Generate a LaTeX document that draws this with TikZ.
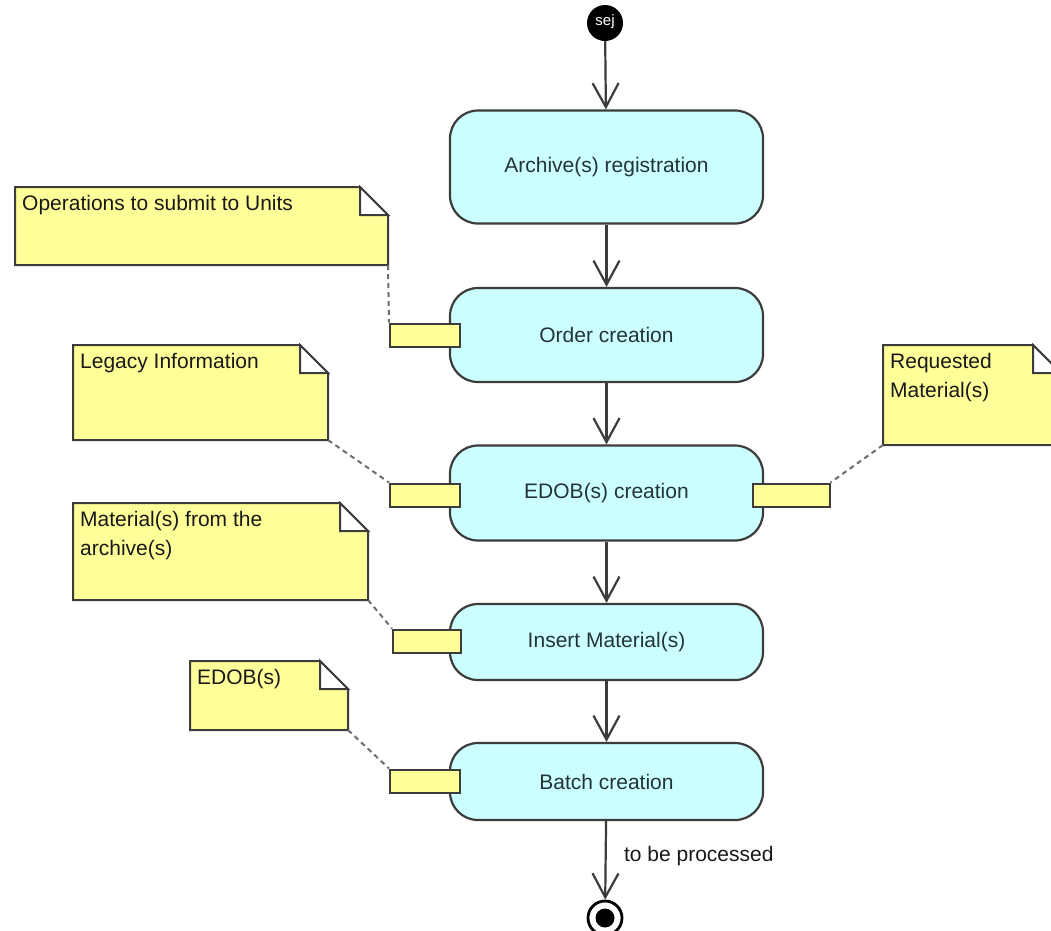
\documentclass[tikz,border=0pt]{standalone}
\usepackage{fontspec}
\setmainfont{Liberation Sans}
\usetikzlibrary{arrows.meta,calc}
\definecolor{actfill}{RGB}{204,255,255}
\definecolor{notefill}{RGB}{255,255,153}
\definecolor{edgec}{RGB}{60,60,60}
\definecolor{acttext}{RGB}{35,52,56}
\definecolor{linkc}{RGB}{110,110,110}
\tikzset{
  act/.style={draw=edgec, line width=2.2pt, fill=actfill, rounded corners=28pt,
    text=acttext, minimum width=313pt, inner sep=0pt},
  pinbox/.style={draw=edgec, line width=2pt, fill=notefill, minimum width=70pt,
    minimum height=23pt, inner sep=0pt},
  flow/.style={draw=edgec, line width=2.2pt,
    -{Straight Barb[length=24pt,width=26pt,line width=2.2pt]}},
  notelink/.style={draw=linkc, line width=2pt, dash pattern=on 5pt off 4pt},
  noteshape/.style={draw=edgec, line width=2pt, fill=notefill, line join=miter},
  notetext/.style={anchor=north west, align=left, inner sep=0pt, text=black!90}
}
\newcommand{\umlnote}[6]{%
  \draw[noteshape] (#2,#3) -- (#4-28,#3) -- (#4,#3+28) -- (#4,#5) -- (#2,#5) -- cycle;
  \draw[noteshape, fill=white] (#4-28,#3) -- (#4-28,#3+28) -- (#4,#3+28) -- cycle;
  \coordinate (#1-se) at (#4,#5);
  \coordinate (#1-sw) at (#2,#5);
  \node[notetext] (#1) at (#2+7,#3+8) {#6};
}
\begin{document}
\begin{tikzpicture}[x=1pt,y=-1pt,font=\fontsize{21}{29}\selectfont]
\useasboundingbox (0,0) rectangle (1051,930);
\clip (0,0) rectangle (1051,930);
\fill[white] (0,0) rectangle (1051,930);

% activities
\node[act, minimum height=113pt] (a1) at (606.5,167) {Archive(s) registration};
\node[act, minimum height=94pt] (a2) at (606.5,335) {Order creation};
\node[act, minimum height=95pt] (a3) at (606.5,493) {EDOB(s) creation};
\node[act, minimum height=76pt] (a4) at (606.5,642) {Insert Material(s)};
\node[act, minimum height=77pt] (a5) at (606.5,781.5) {Batch creation};

% initial / final
\node[circle, fill=black, minimum size=36pt, inner sep=0pt, text=white,
  font=\fontsize{15}{15}\selectfont] (init) at (605,23) {\raisebox{5pt}{sej}};
\node[circle, draw=black, line width=2.8pt, fill=white, minimum size=34pt, inner sep=0pt] (fin) at (605,918) {};
\node[circle, fill=black, minimum size=19pt, inner sep=0pt] (fininner) at (fin.center) {};

% control flows
\draw[flow] (init) -- (a1);
\draw[flow] (a1) -- (a2);
\draw[flow] (a2) -- (a3);
\draw[flow] (a3) -- (a4);
\draw[flow] (a4) -- (a5);
\draw[flow] (a5) -- node[right=14pt, pos=0.45, text=black!90] (lbl) {to be processed} (fin);

% pins
\node[pinbox] (p1) at (425,335) {};
\node[pinbox] (p2) at (425,495) {};
\node[pinbox, minimum width=77pt] (p3) at (791,495) {};
\node[pinbox, minimum width=68pt] (p4) at (427,641) {};
\node[pinbox] (p5) at (425,781) {};

% notes
\umlnote{n1}{15}{187}{388}{265}{Operations to submit to Units}
\umlnote{n2}{73}{345}{328}{440}{Legacy Information}
\umlnote{n3}{883}{345}{1061}{445}{Requested\\Material(s)}
\umlnote{n4}{73}{503}{368}{600}{Material(s) from the\\archive(s)}
\umlnote{n5}{190}{661}{348}{730}{EDOB(s)}

% note links
\draw[notelink] (n1-se) -- (p1.north west);
\draw[notelink] (n2-se) -- (p2.north west);
\draw[notelink] (n3-sw) -- (p3.north east);
\draw[notelink] (n4-se) -- (p4.north west);
\draw[notelink] (n5-se) -- (p5.north west);
\end{tikzpicture}
\end{document}
